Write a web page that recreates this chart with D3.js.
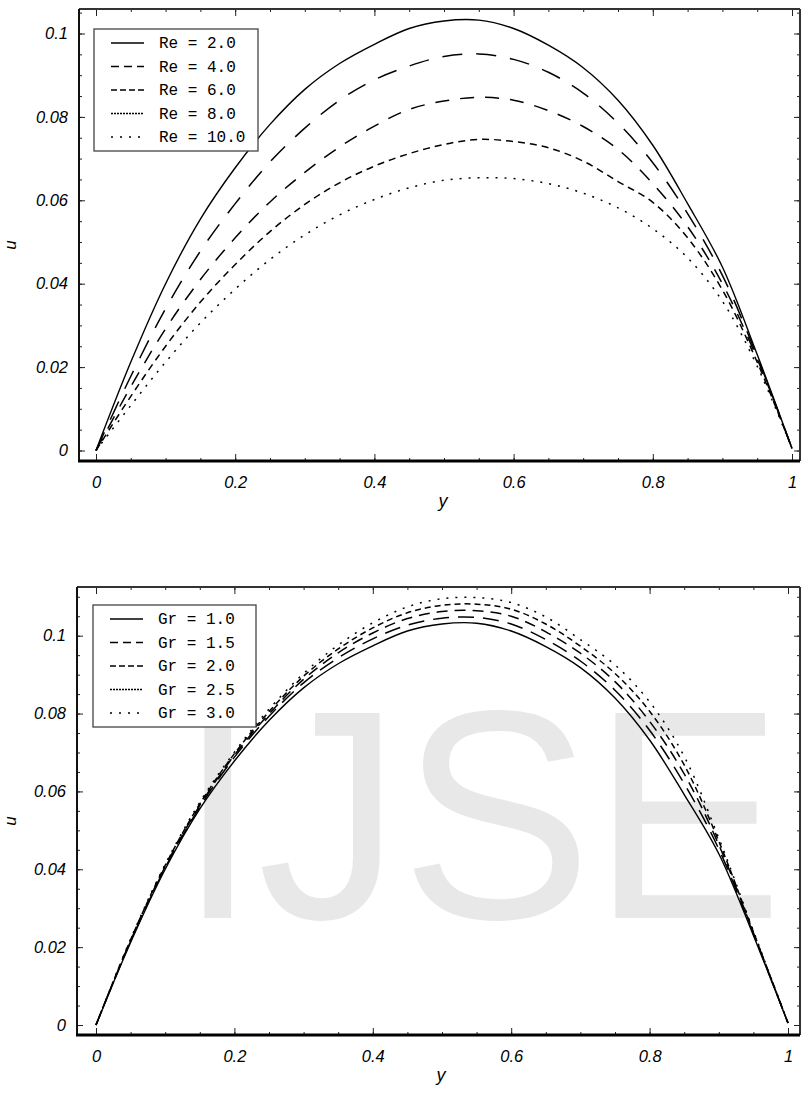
<!DOCTYPE html>
<meta charset="utf-8">

<!-- Load d3.js -->
<script src="https://d3js.org/d3.v7.min.js"></script>

<style>
  body { margin: 0; background: #fff; }
</style>

<div id="profiles"></div>

<script>
    // positions across the channel
    var yPos = [0, 0.05, 0.1, 0.15, 0.2, 0.25, 0.3, 0.35, 0.4, 0.45, 0.5,
                0.55, 0.6, 0.65, 0.7, 0.75, 0.8, 0.85, 0.9, 0.95, 1];

    // top panel: u for different Re
    var re20  = [0, 0.0212, 0.0400, 0.0555, 0.0678, 0.0782, 0.0866, 0.0928, 0.0974, 0.1012, 0.1030,
                 0.1032, 0.1012, 0.0972, 0.0918, 0.0840, 0.0732, 0.0592, 0.0440, 0.0230, 0.0005];
    var re40  = [0, 0.0178, 0.0340, 0.0478, 0.0592, 0.0692, 0.0773, 0.0840, 0.0889, 0.0922, 0.0945,
                 0.0951, 0.0938, 0.0907, 0.0857, 0.0785, 0.0690, 0.0568, 0.0420, 0.0225, 0.0005];
    var re60  = [0, 0.0153, 0.0292, 0.0410, 0.0510, 0.0596, 0.0667, 0.0728, 0.0778, 0.0818, 0.0838,
                 0.0847, 0.0840, 0.0815, 0.0777, 0.0722, 0.0640, 0.0537, 0.0400, 0.0220, 0.0005];
    var re80  = [0, 0.0130, 0.0250, 0.0356, 0.0446, 0.0525, 0.0590, 0.0642, 0.0682, 0.0712, 0.0734,
                 0.0746, 0.0741, 0.0726, 0.0694, 0.0645, 0.0595, 0.0510, 0.0385, 0.0212, 0.0005];
    var re100 = [0, 0.0108, 0.0212, 0.0306, 0.0387, 0.0458, 0.0517, 0.0565, 0.0602, 0.0630, 0.0648,
                 0.0654, 0.0652, 0.0640, 0.0617, 0.0582, 0.0532, 0.0462, 0.0358, 0.0202, 0.0005];

    // bottom panel: u for different Gr
    var gr10 = [0, 0.0212, 0.0400, 0.0555, 0.0678, 0.0782, 0.0866, 0.0928, 0.0974, 0.1012, 0.1030,
                0.1032, 0.1012, 0.0972, 0.0918, 0.0840, 0.0732, 0.0592, 0.0440, 0.0230, 0.0005];
    var gr15 = [0, 0.0215, 0.0404, 0.0560, 0.0688, 0.0793, 0.0879, 0.0943, 0.0992, 0.1027, 0.1045,
                0.1047, 0.1030, 0.0990, 0.0935, 0.0860, 0.0757, 0.0620, 0.0452, 0.0234, 0.0005];
    var gr20 = [0, 0.0217, 0.0407, 0.0564, 0.0693, 0.0799, 0.0888, 0.0956, 0.1007, 0.1044, 0.1062,
                0.1064, 0.1050, 0.1010, 0.0955, 0.0882, 0.0780, 0.0645, 0.0463, 0.0237, 0.0005];
    var gr25 = [0, 0.0219, 0.0410, 0.0568, 0.0697, 0.0805, 0.0896, 0.0966, 0.1020, 0.1059, 0.1078,
                0.1081, 0.1068, 0.1030, 0.0973, 0.0903, 0.0806, 0.0668, 0.0472, 0.0239, 0.0005];
    var gr30 = [0, 0.0221, 0.0413, 0.0572, 0.0701, 0.0811, 0.0903, 0.0976, 0.1033, 0.1074, 0.1095,
                0.1098, 0.1085, 0.1048, 0.0990, 0.0925, 0.0830, 0.0690, 0.0480, 0.0242, 0.0005];

    var reLabels = ["Re = 2.0", "Re = 4.0", "Re = 6.0", "Re = 8.0", "Re = 10.0"];
    var grLabels = ["Gr = 1.0", "Gr = 1.5", "Gr = 2.0", "Gr = 2.5", "Gr = 3.0"];

    var xTicks = [0, 0.2, 0.4, 0.6, 0.8, 1];
    var uTicks = [0, 0.02, 0.04, 0.06, 0.08, 0.1];

    var W = 801, H = 1093;

    var svg = d3.select("#profiles")
      .append("svg")
        .attr("width", W)
        .attr("height", H)
        .style("display", "block");

    function panel(p) {
      var x = d3.scaleLinear().domain([0, 1]).range([p.x0, p.x1]);
      var y = d3.scaleLinear().domain([0, 0.1]).range([p.y0, p.y1]);
      var g = svg.append("g");

      // watermark sits behind the curves
      if (p.mark) {
        g.append("text")
          .attr("x", 178).attr("y", 918)
          .attr("textLength", 605).attr("lengthAdjust", "spacingAndGlyphs")
          .style("font-family", "Liberation Sans, Arial, sans-serif")
          .style("font-size", "298px")
          .attr("fill", "#e8e8e8")
          .text(p.mark);
      }

      var line = d3.line()
        .x(function(d, i) { return x(yPos[i]); })
        .y(function(d) { return y(d); })
        .curve(d3.curveCatmullRom.alpha(0.5));

      p.series.forEach(function(s, i) {
        g.append("path")
          .attr("d", line(s))
          .attr("fill", "none")
          .attr("stroke", "#000")
          .attr("stroke-width", i == 0 ? 1.4 : 1.5)
          .attr("stroke-dasharray", p.dash[i]);
      });

      // ticks, all pointing inward
      var minorX = d3.range(0, 1.0001, 0.05);
      var minorY = d3.range(0, y.invert(p.top) , 0.005);
      function tk(axis, tr) {
        var a = g.append("g").attr("transform", tr).call(axis);
        a.select(".domain").remove();
        a.selectAll("line").attr("stroke", "#222");
        return a;
      }
      var bx = tk(d3.axisBottom(x).tickValues(xTicks).tickSize(-7).tickPadding(15)
                    .tickFormat(function(d) { return String(d); }), "translate(0," + p.bottom + ")");
      tk(d3.axisBottom(x).tickValues(minorX).tickSize(-3).tickFormat(""), "translate(0," + p.bottom + ")");
      tk(d3.axisTop(x).tickValues(xTicks).tickSize(-7).tickFormat(""), "translate(0," + p.top + ")");
      tk(d3.axisTop(x).tickValues(minorX).tickSize(-3).tickFormat(""), "translate(0," + p.top + ")");
      var ly = tk(d3.axisLeft(y).tickValues(uTicks).tickSize(-6).tickPadding(11)
                    .tickFormat(function(d) { return String(d); }), "translate(" + p.left + ",0)");
      tk(d3.axisLeft(y).tickValues(minorY).tickSize(-3).tickFormat(""), "translate(" + p.left + ",0)");
      tk(d3.axisRight(y).tickValues(uTicks).tickSize(-6).tickFormat(""), "translate(" + p.right + ",0)");
      tk(d3.axisRight(y).tickValues(minorY).tickSize(-3).tickFormat(""), "translate(" + p.right + ",0)");

      [bx, ly].forEach(function(a) {
        a.selectAll("text")
          .style("font-family", "Liberation Sans, Arial, sans-serif")
          .style("font-style", "italic")
          .style("font-size", "16.5px")
          .attr("fill", "#000");
      });

      // frame
      g.append("line").attr("x1", p.left).attr("x2", p.right).attr("y1", p.top).attr("y2", p.top)
        .attr("stroke", "#333").attr("stroke-width", 2);
      g.append("line").attr("x1", p.left).attr("x2", p.left).attr("y1", p.top).attr("y2", p.bottom)
        .attr("stroke", "#111").attr("stroke-width", 2);
      g.append("line").attr("x1", p.right).attr("x2", p.right).attr("y1", p.top).attr("y2", p.bottom)
        .attr("stroke", "#333").attr("stroke-width", 2);
      g.append("line").attr("x1", p.left - 1).attr("x2", p.right).attr("y1", p.bottom).attr("y2", p.bottom)
        .attr("stroke", "#000").attr("stroke-width", 3);

      // axis titles
      g.append("text")
        .attr("transform", "translate(16," + ((p.top + p.bottom) / 2 + 10) + ") rotate(-90)")
        .attr("text-anchor", "middle")
        .style("font-family", "Liberation Sans, Arial, sans-serif")
        .style("font-style", "italic").style("font-size", "17px")
        .text("u");
      g.append("text")
        .attr("x", (p.x0 + p.x1) / 2 - 1).attr("y", p.bottom + 46)
        .attr("text-anchor", "middle")
        .style("font-family", "Liberation Sans, Arial, sans-serif")
        .style("font-style", "italic").style("font-size", "18px")
        .text("y");

      // legend
      var lg = g.append("g").attr("transform", "translate(" + p.legX + "," + p.legY + ")");
      lg.append("rect")
        .attr("width", p.legW).attr("height", 122)
        .attr("fill", "#fff").attr("stroke", "#444").attr("stroke-width", 1.3);
      p.labels.forEach(function(lab, i) {
        var ry = 14 + i * 23.5;
        lg.append("line")
          .attr("x1", 17).attr("x2", 50).attr("y1", ry).attr("y2", ry)
          .attr("stroke", "#000").attr("stroke-width", 1.3)
          .attr("stroke-dasharray", p.legDash[i]);
        lg.append("text")
          .attr("x", 65).attr("y", ry + 5)
          .style("font-family", "Liberation Mono, Courier New, monospace")
          .style("font-size", "16px")
          .attr("fill", "#000")
          .text(lab);
      });
    }

    panel({
      x0: 96, x1: 792, y0: 450.5, y1: 33.5,
      left: 79, right: 800, top: 9, bottom: 461,
      series: [re20, re40, re60, re80, re100],
      dash: [null, "20,14", "14,11", "7,5", "2,7"],
      labels: reLabels,
      legDash: [null, "8,5", "6,3", "2,1", "2,7"],
      legX: 94, legY: 29, legW: 164
    });

    panel({
      x0: 96, x1: 788, y0: 1025, y1: 635.7,
      left: 77, right: 800, top: 587, bottom: 1035,
      series: [gr10, gr15, gr20, gr25, gr30],
      dash: [null, "16,9", "11,7", "6,4", "2,7"],
      labels: grLabels,
      legDash: [null, "8,5", "6,3", "2,1", "2,7"],
      legX: 93, legY: 605, legW: 163,
      mark: "IJSE"
    });
</script>
